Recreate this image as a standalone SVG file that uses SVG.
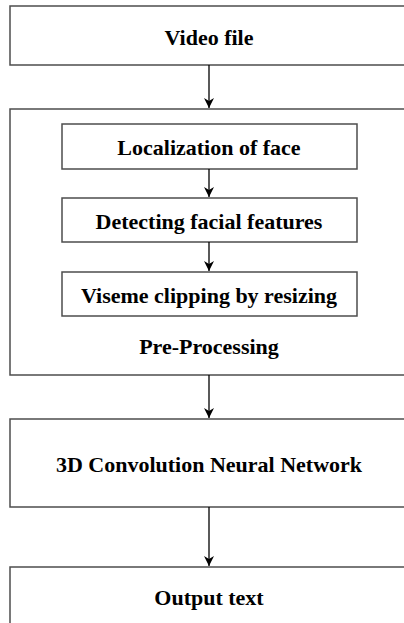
<svg xmlns="http://www.w3.org/2000/svg" width="404" height="623" viewBox="0 0 404 623">
<defs>
<style>
.box{fill:#fff;stroke:#4d4d4d;stroke-width:1.5}
.t{font-family:"Liberation Serif","Times New Roman",serif;font-weight:bold;font-size:22px;fill:#000;text-anchor:middle}
.c{stroke:#000;stroke-width:1.3;fill:none;marker-end:url(#ah)}
</style>
<marker id="ah" viewBox="0 0 10 10" refX="10" refY="5" markerWidth="10" markerHeight="10" markerUnits="userSpaceOnUse" orient="auto">
<path d="M0,0 L10,5 L0,10 L3,5 Z" fill="#000"/>
</marker>
</defs>
<rect width="404" height="623" fill="#fff"/>
<g id="video-file"><rect class="box" x="10" y="6" width="398" height="59"/><text class="t" x="209" y="45">Video file</text></g>
<g id="pre-processing"><rect class="box" x="10" y="109" width="398" height="266"/><text class="t" x="209" y="354">Pre-Processing</text></g>
<g id="localization"><rect class="box" x="62" y="124" width="295" height="45"/><text class="t" x="209" y="155">Localization of face</text></g>
<g id="detecting"><rect class="box" x="62" y="198" width="295" height="44"/><text class="t" x="209" y="229">Detecting facial features</text></g>
<g id="viseme"><rect class="box" x="62" y="272" width="295" height="44"/><text class="t" x="209" y="303">Viseme clipping by resizing</text></g>
<g id="cnn"><rect class="box" x="10" y="419" width="398" height="88"/><text class="t" x="209" y="472">3D Convolution Neural Network</text></g>
<g id="output"><rect class="box" x="10" y="567" width="398" height="70"/><text class="t" x="209" y="605">Output text</text></g>
<g id="connectors">
<line class="c" x1="209" y1="65" x2="209" y2="108"/>
<line class="c" x1="209" y1="169" x2="209" y2="197"/>
<line class="c" x1="209" y1="242" x2="209" y2="271"/>
<line class="c" x1="209" y1="375" x2="209" y2="418"/>
<line class="c" x1="209" y1="507" x2="209" y2="566"/>
</g>
</svg>
